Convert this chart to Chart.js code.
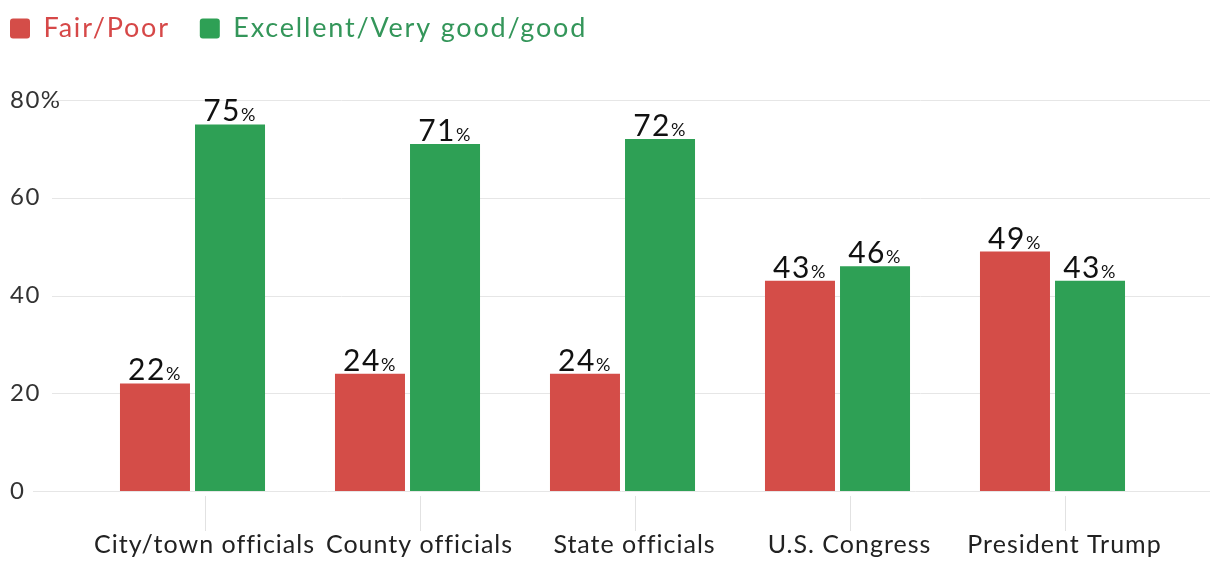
<!DOCTYPE html>
<html>
<head>
<meta charset="utf-8">
<title>Ratings of officials</title>
<script src="https://cdn.jsdelivr.net/npm/chart.js@4.4.1/dist/chart.umd.min.js"></script>
<style>
    html, body { margin: 0; padding: 0; background: #fff; }
    #wrap { width: 1224px; height: 561px; position: relative; }
</style>
</head>
<body>
<div id="wrap"><canvas id="ratingsChart"></canvas></div>
<script>
// Survey data
const categories = ['City/town officials', 'County officials', 'State officials', 'U.S. Congress', 'President Trump'];
const fairPoor = [22, 24, 24, 43, 49];
const excellentGood = [75, 71, 72, 46, 43];
const yTickValues = [0, 20, 40, 60, 80];

const RED = '#d44d48';
const GREEN = '#2ea055';
const FONT = 'Lato, "Open Sans", sans-serif';
const LABEL_SHIFT = 12;   // category labels sit a little right of the bar pairs

// Run a drawing/measuring method with some letter spacing on the canvas
function withSpacing(obj, method, spacing) {
    const flag = '_spaced_' + method;
    if (obj[flag]) return;
    const orig = obj[method];
    obj[method] = function(...args) {
        const c = this.ctx;
        const prev = c.letterSpacing;
        c.letterSpacing = spacing;
        const result = orig.apply(this, args);
        c.letterSpacing = prev;
        return result;
    };
    obj[flag] = true;
}

// Wider legend text, and push the plot area down below the legend
const legendSpace = {
    id: 'legendSpace',
    beforeInit(chart) {
        const legend = chart.legend;
        const fit = legend.fit;
        legend.fit = function() {
            fit.bind(legend)();
            this.height = 94;
        };
        withSpacing(legend, 'fit', '1.8px');
        withSpacing(legend, 'draw', '1.8px');
    }
};

// Horizontal grid lines, running a bit past the plot area on both sides
const wideGrid = {
    id: 'wideGrid',
    beforeDatasetsDraw(chart) {
        const { ctx, chartArea, scales } = chart;
        ctx.save();
        ctx.strokeStyle = '#e6e6e6';
        ctx.lineWidth = 1;
        yTickValues.forEach(v => {
            const y = Math.round(scales.y.getPixelForValue(v)) + 0.5;
            ctx.beginPath();
            ctx.moveTo(v === 0 ? 33 : 52, y);
            ctx.lineTo(chartArea.right + 50, y);
            ctx.stroke();
        });
        ctx.restore();
    },
    afterLayout(chart) {
        // left-align the y labels and the legend at the same edge
        chart.scales.y.left = 10;
        chart.legend.left = -20;
        chart.legend.top = -15;
        withSpacing(chart.scales.x, 'drawLabels', '1px');
        withSpacing(chart.scales.y, 'drawLabels', '1.5px');
    }
};

// Small vertical tick under each category label
const categoryTicks = {
    id: 'categoryTicks',
    afterDraw(chart) {
        const { ctx, chartArea, scales } = chart;
        ctx.save();
        ctx.strokeStyle = '#e2e2e2';
        ctx.lineWidth = 1;
        categories.forEach((c, i) => {
            const x = Math.round(scales.x.getPixelForValue(i) + LABEL_SHIFT) + 0.5;
            ctx.beginPath();
            ctx.moveTo(x, chartArea.bottom + 5);
            ctx.lineTo(x, chartArea.bottom + 40);
            ctx.stroke();
        });
        ctx.restore();
    }
};

// Value above each bar, with a smaller percent sign
const valueLabels = {
    id: 'valueLabels',
    afterDatasetsDraw(chart) {
        const { ctx } = chart;
        ctx.save();
        ctx.fillStyle = '#111';
        ctx.textBaseline = 'alphabetic';
        ctx.textAlign = 'left';
        ctx.letterSpacing = '1.5px';
        chart.data.datasets.forEach((ds, di) => {
            chart.getDatasetMeta(di).data.forEach((bar, i) => {
                const num = String(ds.data[i]);
                ctx.font = '30px ' + FONT;
                const wNum = ctx.measureText(num).width;
                ctx.font = '18px ' + FONT;
                const wPct = ctx.measureText('%').width;
                const x0 = bar.x - (wNum + wPct) / 2;
                const y = bar.y - 3;
                ctx.font = '30px ' + FONT;
                ctx.fillText(num, x0, y);
                ctx.font = '18px ' + FONT;
                ctx.fillText('%', x0 + wNum, y);
            });
        });
        ctx.restore();
    }
};

const ctx = document.getElementById('ratingsChart').getContext('2d');

new Chart(ctx, {
    type: 'bar',
    data: {
        labels: categories,
        datasets: [{
            label: 'Fair/Poor',
            data: fairPoor,
            backgroundColor: RED
        }, {
            label: 'Excellent/Very good/good',
            data: excellentGood,
            backgroundColor: GREEN
        }]
    },
    options: {
        responsive: true,
        maintainAspectRatio: false,
        animation: false,
        categoryPercentage: 0.698,
        barPercentage: 0.933,
        layout: {
            padding: { left: 0, right: 64, top: 6, bottom: 0 }
        },
        scales: {
            x: {
                offset: true,
                border: { display: false },
                grid: {
                    display: true,
                    drawOnChartArea: false,
                    drawTicks: true,
                    tickLength: 36,
                    tickColor: 'rgba(0,0,0,0)'
                },
                ticks: {
                    padding: 3,
                    labelOffset: LABEL_SHIFT,
                    color: '#222',
                    font: { family: FONT, size: 25 },
                    maxRotation: 0,
                    autoSkip: false
                },
                afterFit(scale) { scale.height = 70; }
            },
            y: {
                min: 0,
                max: 80,
                border: { display: false },
                grid: { display: false },
                ticks: {
                    stepSize: 20,
                    crossAlign: 'far',
                    color: '#333',
                    font: { family: FONT, size: 24 },
                    callback: v => v === 80 ? '80%' : v
                },
                afterFit(scale) { scale.width = 85; }
            }
        },
        plugins: {
            legend: {
                position: 'top',
                align: 'start',
                labels: {
                    boxWidth: 20,
                    boxHeight: 20,
                    padding: 30,
                    useBorderRadius: true,
                    borderRadius: 3,
                    font: { family: FONT, size: 27 },
                    generateLabels(chart) {
                        const textColors = ['#d64848', '#34965a'];
                        return chart.data.datasets.map((ds, i) => ({
                            text: ds.label,
                            fillStyle: ds.backgroundColor,
                            strokeStyle: ds.backgroundColor,
                            lineWidth: 0,
                            fontColor: textColors[i],
                            borderRadius: 3,
                            datasetIndex: i,
                            hidden: !chart.isDatasetVisible(i)
                        }));
                    }
                }
            },
            tooltip: { enabled: false }
        }
    },
    plugins: [legendSpace, wideGrid, categoryTicks, valueLabels]
});
</script>
</body>
</html>
